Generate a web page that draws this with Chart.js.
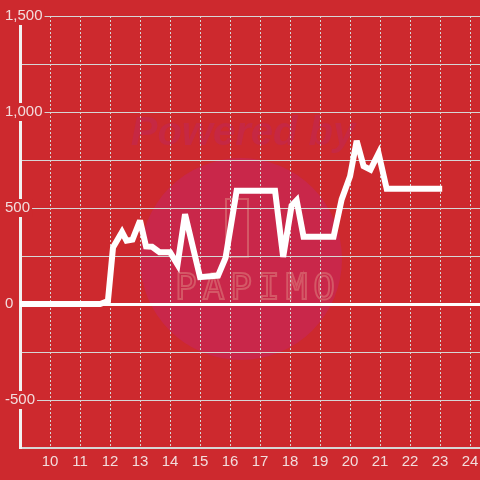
<!DOCTYPE html>
<html>
<head>
    <title>Line chart</title>
    <script src="https://cdn.jsdelivr.net/npm/chart.js"></script>
    <style>
        html, body {
            margin: 0;
            padding: 0;
            background-color: #cd292e;
        }
        #chartContainer {
            width: 480px;
            height: 480px;
        }
    </style>
</head>
<body>
    <div id="chartContainer">
        <canvas id="lineChart"></canvas>
    </div>

    <script>
        // hora del dia (x) y valor (y)
        const hours = [9.0, 11.67, 11.93, 12.1, 12.4, 12.55, 12.75, 13.0, 13.2, 13.4, 13.65, 14.0, 14.25, 14.5,
                       15.0, 15.6, 15.85, 16.22, 17.5, 17.77, 18.05, 18.22, 18.45, 19.45, 19.72, 20.0, 20.22,
                       20.45, 20.68, 20.95, 21.22, 23.07];
        const values = [0, 0, 15, 295, 375, 330, 335, 435, 300, 298, 270, 270, 205, 468,
                        140, 148, 240, 590, 590, 245, 512, 540, 350, 350, 545, 665, 850,
                        718, 700, 785, 600, 600];
        const xTicks = [10, 11, 12, 13, 14, 15, 16, 17, 18, 19, 20, 21, 22, 23, 24];

        const bgColor = '#cd292e';

        const watermark = {
            id: 'watermark',
            beforeDraw(chart) {
                const ctx = chart.ctx;
                ctx.save();
                ctx.fillStyle = bgColor;
                ctx.fillRect(0, 0, chart.width, chart.height);
                ctx.fillStyle = '#c9274a';
                ctx.beginPath();
                ctx.arc(241, 259, 101, 0, Math.PI * 2);
                ctx.fill();
                ctx.fillStyle = '#c62843';
                ctx.font = 'italic bold 40px "Liberation Sans"';
                ctx.textAlign = 'center';
                ctx.textBaseline = 'middle';
                ctx.fillText('Powered by', 243, 134);
                ctx.strokeStyle = '#d45866';
                ctx.lineWidth = 2;
                ctx.font = '36px "DejaVu Sans Mono"';
                ctx.letterSpacing = '6px';
                ctx.strokeText('PAPIMO', 258, 290);
                ctx.strokeRect(226, 199, 22, 58);
                ctx.restore();
            },
            beforeDatasetsDraw(chart) {
                chart.ctx.miterLimit = 3;
            }
        };

        const ctx = document.getElementById('lineChart').getContext('2d');
        new Chart(ctx, {
            type: 'line',
            data: {
                datasets: [{
                    data: hours.map((h, i) => ({ x: h, y: values[i] })),
                    borderColor: '#ffffff',
                    borderWidth: 6,
                    pointRadius: 0,
                    fill: false,
                    tension: 0,
                    clip: false
                }]
            },
            options: {
                responsive: true,
                maintainAspectRatio: false,
                animation: false,
                layout: {
                    padding: { left: 5, top: 16, right: 0, bottom: 4 }
                },
                plugins: {
                    legend: { display: false },
                    tooltip: { enabled: false }
                },
                scales: {
                    x: {
                        type: 'linear',
                        min: 9,
                        max: 24.33,
                        afterBuildTicks: (scale) => {
                            scale.ticks = xTicks.map(v => ({ value: v }));
                        },
                        afterFit: (scale) => {
                            scale.paddingLeft = 0;
                            scale.paddingRight = 0;
                        },
                        grid: {
                            color: '#d6d6d6',
                            lineWidth: 1,
                            drawTicks: false
                        },
                        border: {
                            color: '#d6d6d6',
                            width: 2,
                            dash: [2, 2]
                        },
                        ticks: {
                            color: '#f2dcdc',
                            padding: 5,
                            maxRotation: 0,
                            font: { family: 'Liberation Sans', size: 15 }
                        }
                    },
                    y: {
                        min: -750,
                        max: 1500,
                        afterFit: (scale) => {
                            scale.width = 15;
                            scale.paddingTop = 0;
                            scale.paddingBottom = 0;
                        },
                        grid: {
                            color: (c) => c.tick && c.tick.value === 0 ? '#ffffff' : '#d6d6d6',
                            lineWidth: (c) => c.tick && c.tick.value === 0 ? 3 : 1,
                            drawTicks: false
                        },
                        border: {
                            color: '#f2f2f2',
                            width: 3
                        },
                        ticks: {
                            stepSize: 250,
                            mirror: true,
                            padding: -15,
                            color: '#f2dcdc',
                            font: { family: 'Liberation Sans', size: 15 },
                            showLabelBackdrop: true,
                            backdropPadding: { top: 0, bottom: 0, left: 1, right: 2 },
                            backdropColor: (c) => c.tick && c.tick.value % 500 === 0 ? bgColor : 'rgba(0,0,0,0)',
                            callback: (v) => v % 500 === 0 ? v.toLocaleString('en-US') : ''
                        }
                    }
                }
            },
            plugins: [watermark]
        });
    </script>
</body>
</html>
